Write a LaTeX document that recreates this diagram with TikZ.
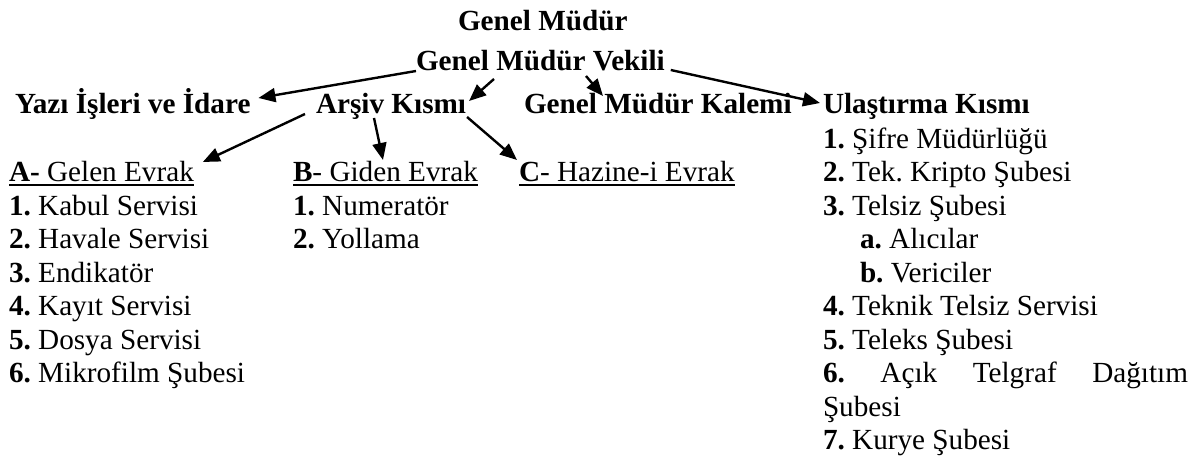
\documentclass[tikz,border=0pt]{standalone}
\usepackage{fontspec}
\setmainfont{Liberation Serif}
\usetikzlibrary{arrows.meta}
\frenchspacing
\newcommand{\ulbox}[1]{\setbox0\hbox{#1}\rlap{\vrule width \wd0 height -2bp depth 4.2bp}\box0}
\tikzset{
  txt/.style={inner sep=0pt,outer sep=0pt,anchor=base west,font=\fontsize{29.2bp}{33.5bp}\selectfont\frenchspacing},
  hd/.style={txt,font=\fontsize{29.2bp}{33.5bp}\selectfont\frenchspacing\bfseries},
  arr/.style={line width=2.4bp,-{Triangle[length=17bp,width=14bp]}}
}
\begin{document}
\begin{tikzpicture}[x=1bp,y=-1bp]
\useasboundingbox[fill=white] (0,0) rectangle (1197,459);
% top
\node[hd] (gm) at (458,31) {Genel Müdür};
\node[hd] (gmv) at (416,71) {Genel Müdür Vekili};
\node[hd] (yazi) at (15,114) {Yazı İşleri ve İdare};
\node[hd] (arsiv) at (316,114) {Arşiv Kısmı};
\node[hd] (kalem) at (524,114) {Genel Müdür Kalemi};
\node[hd] (ulas) at (823,114) {Ulaştırma Kısmı};
% sub heads
\node[txt] (aA) at (9,182) {\ulbox{\textbf{A-} Gelen Evrak}};
\node[txt] (bB) at (293,182) {\ulbox{\textbf{B}- Giden Evrak}};
\node[txt] (cC) at (519,182) {\ulbox{\textbf{C}- Hazine-i Evrak}};
% A list
\node[txt] (a1) at (9,215.5) {\textbf{1.} Kabul Servisi};
\node[txt] (a2) at (9,249) {\textbf{2.} Havale Servisi};
\node[txt] (a3) at (9,282.5) {\textbf{3.} Endikatör};
\node[txt] (a4) at (9,316) {\textbf{4.} Kayıt Servisi};
\node[txt] (a5) at (9,349.5) {\textbf{5.} Dosya Servisi};
\node[txt] (a6) at (9,383) {\textbf{6.} Mikrofilm Şubesi};
% B list
\node[txt] (b1) at (293,215.5) {\textbf{1.} Numeratör};
\node[txt] (b2) at (293,249) {\textbf{2.} Yollama};
% Ulastirma list
\node[txt] (u1) at (823,148.5) {\textbf{1.} Şifre Müdürlüğü};
\node[txt] (u2) at (823,182) {\textbf{2.} Tek. Kripto Şubesi};
\node[txt] (u3) at (823,215.5) {\textbf{3.} Telsiz Şubesi};
\node[txt] (u3a) at (860,249) {\textbf{a.} Alıcılar};
\node[txt] (u3b) at (860,282.5) {\textbf{b.} Vericiler};
\node[txt] (u4) at (823,316) {\textbf{4.} Teknik Telsiz Servisi};
\node[txt] (u5) at (823,349.5) {\textbf{5.} Teleks Şubesi};
\node[txt] (u6) at (823,383) {\makebox[365bp][s]{\textbf{6.} Açık Telgraf Dağıtım}};
\node[txt] (u6b) at (823,416.5) {Şubesi};
\node[txt] (u7) at (823,450) {\textbf{7.} Kurye Şubesi};
% connectors
\draw[arr] (gmv.base west) -- ([shift={(8,-16)}]yazi.base east);
\draw[arr] ([shift={(78,8)}]gmv.base west) -- ([shift={(3,-13)}]arsiv.base east);
\draw[arr] ([shift={(170,5)}]gmv.base west) -- ([shift={(79,-18)}]kalem.base west);
\draw[arr] ([shift={(6,-1)}]gmv.base east) -- ([shift={(-3,-11)}]ulas.base west);
\draw[arr] ([shift={(-11,0)}]arsiv.base west) -- ([shift={(9,-20)}]aA.base east);
\draw[arr] ([shift={(58,4)}]arsiv.base west) -- ([shift={(90,-22)}]bB.base west);
\draw[arr] ([shift={(1,3)}]arsiv.base east) -- ([shift={(-2,-22)}]cC.base west);
\end{tikzpicture}
\end{document}
